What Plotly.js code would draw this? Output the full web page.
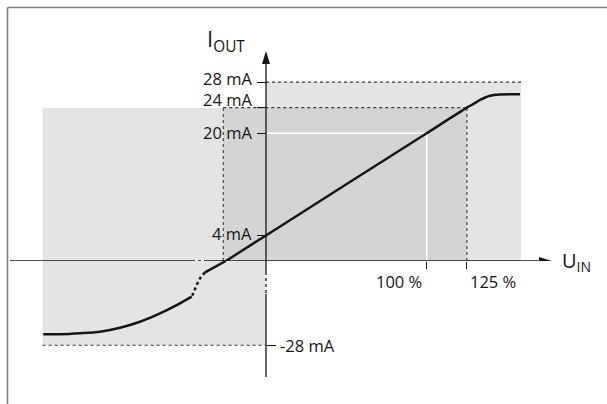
<!DOCTYPE html>
<html>
<head>
<meta charset="utf-8">
<script src="https://cdn.plot.ly/plotly-3.0.1.min.js"></script>
<style>html,body{margin:0;padding:0;background:#fff;}#chart{width:607px;height:404px;}</style>
</head>
<body>
<div id="chart"></div>
<script>
// ---------- data (input in %, output in mA) ----------
const upperCurveX = [-25, 0, 100, 125, 129.2, 133.2, 139.4, 145.6, 158.1];
const upperCurveY = [0, 4, 20, 24, 24.6, 25.2, 25.85, 26.05, 26.1];
const lowerLineX = [-25, -37.96];
const lowerLineY = [0, -3.75];
const brokenX = [-37.96, -41.07, -43.12, -45.24, -46.24];
const brokenY = [-3.75, -5.75, -7.97, -10.73, -11.86];
const lowerCurveX = [-46.24, -53.52, -65.96, -78.41, -90.85, -103.3, -115.7, -128.2, -138.6];
const lowerCurveY = [-11.86, -14.05, -17.38, -20.17, -22.16, -23.49, -24.02, -24.35, -24.35];

const yTickVals = [28, 24, 20, 4];
const yTickText = ['28 mA', '24 mA', '20 mA', '4 mA'];
const yNegTickVals = [-28];
const yNegTickText = ['-28 mA'];
const xTickVals = [100, 125];
const xTickText = ['100 %', '125 %'];

const nominalPct = [0, 100];        // nominal input span
const extendedPct = [-26.6, 125];   // extended linear span
const saturationPct = [-139, 158.7]; // full output span
const nominalMA = [4, 20];
const extendedMA = [0, 24];
const limitMA = [-28, 28];

// ---------- style / geometry ----------
const FONT = '"Open Sans", "Noto Sans", "DejaVu Sans", sans-serif';
const INK = '#161616';
const LIGHT = '#e4e4e4';
const DARK = '#d4d4d4';
const W = 607, H = 404;
const X0PX = 266, KX = 1.607;      // px of x=0, px per %
const Y0PX = 261, KY = 6.39, KY2 = 3.01;
const split = 1 - Y0PX / H;

const traceStyle = {color: INK, width: 2.5};
const traces = [
  {x: upperCurveX, y: upperCurveY, xaxis: 'x', yaxis: 'y', mode: 'lines', line: Object.assign({shape: 'spline', smoothing: 0.6}, traceStyle), hoverinfo: 'skip'},
  {x: lowerLineX, y: lowerLineY, xaxis: 'x', yaxis: 'y2', mode: 'lines', line: traceStyle, hoverinfo: 'skip'},
  {x: brokenX, y: brokenY, xaxis: 'x', yaxis: 'y2', mode: 'lines', line: Object.assign({dash: 'dot', shape: 'spline'}, traceStyle), hoverinfo: 'skip'},
  {x: lowerCurveX, y: lowerCurveY, xaxis: 'x', yaxis: 'y2', mode: 'lines', line: Object.assign({shape: 'spline', smoothing: 0.8}, traceStyle), hoverinfo: 'skip'}
];

const dot = {color: '#3a3a3a', width: 1.1, dash: 'dot'};
const axisLine = {color: INK, width: 1.3};
const shapes = [
  // frame
  {type: 'line', xref: 'paper', yref: 'paper', x0: 7.5 / W, x1: 1, y0: 1 - 7.5 / H, y1: 1 - 7.5 / H, line: {color: '#7d7d7d', width: 1.6}},
  {type: 'line', xref: 'paper', yref: 'paper', x0: 7.5 / W, x1: 7.5 / W, y0: 0, y1: 1 - 7.5 / H, line: {color: '#7d7d7d', width: 1.6}},
  // regions
  {type: 'rect', layer: 'below', xref: 'x', yref: 'y', x0: saturationPct[0], x1: nominalPct[0], y0: 0, y1: extendedMA[1], fillcolor: LIGHT, line: {width: 0}},
  {type: 'rect', layer: 'below', xref: 'x', yref: 'y2', x0: saturationPct[0], x1: nominalPct[0], y0: limitMA[0], y1: 0, fillcolor: LIGHT, line: {width: 0}},
  {type: 'rect', layer: 'below', xref: 'x', yref: 'y', x0: nominalPct[0], x1: saturationPct[1], y0: 0, y1: limitMA[1], fillcolor: LIGHT, line: {width: 0}},
  {type: 'rect', layer: 'below', xref: 'x', yref: 'y', x0: extendedPct[0], x1: extendedPct[1], y0: extendedMA[0], y1: extendedMA[1], fillcolor: DARK, line: {width: 0}},
  // white nominal lines
  {type: 'line', layer: 'below', xref: 'x', yref: 'y', x0: nominalPct[0], x1: nominalPct[1], y0: nominalMA[1], y1: nominalMA[1], line: {color: '#ffffff', width: 1.5}},
  {type: 'line', layer: 'below', xref: 'x', yref: 'y', x0: nominalPct[1], x1: nominalPct[1], y0: 0, y1: nominalMA[1], line: {color: '#ffffff', width: 1.5}},
  // dotted limits
  {type: 'line', layer: 'below', xref: 'x', yref: 'y', x0: nominalPct[0], x1: saturationPct[1], y0: limitMA[1], y1: limitMA[1], line: dot},
  {type: 'line', layer: 'below', xref: 'x', yref: 'y', x0: extendedPct[0], x1: extendedPct[1], y0: extendedMA[1], y1: extendedMA[1], line: dot},
  {type: 'line', layer: 'below', xref: 'x', yref: 'y', x0: extendedPct[0], x1: extendedPct[0], y0: 0, y1: extendedMA[1], line: dot},
  {type: 'line', layer: 'below', xref: 'x', yref: 'y', x0: extendedPct[1], x1: extendedPct[1], y0: 0, y1: extendedMA[1], line: dot},
  {type: 'line', layer: 'below', xref: 'x', yref: 'y2', x0: saturationPct[0], x1: nominalPct[0], y0: limitMA[0], y1: limitMA[0], line: dot},
  // axes
  {type: 'line', xref: 'x', yref: 'y', x0: (10 - X0PX) / KX, x1: (545 - X0PX) / KX, y0: 0, y1: 0, line: axisLine},
  {type: 'line', xref: 'x', yref: 'y', x0: 0, x1: 0, y0: 0, y1: (Y0PX - 58) / KY, line: axisLine},
  {type: 'line', xref: 'x', yref: 'y2', x0: 0, x1: 0, y0: -(377 - Y0PX) / KY2, y1: 0, line: axisLine},
  // axis breaks
  {type: 'line', xref: 'x', yref: 'y', x0: (192 - X0PX) / KX, x1: (204 - X0PX) / KX, y0: 0, y1: 0, line: {color: '#ffffff', width: 2}},
  {type: 'line', xref: 'x', yref: 'y', x0: (192 - X0PX) / KX, x1: (204 - X0PX) / KX, y0: 0, y1: 0, line: {color: INK, width: 1.3, dash: 'dot'}},
  {type: 'line', xref: 'x', yref: 'y2', x0: 0, x1: 0, y0: -(272 - Y0PX) / KY2, y1: -(294 - Y0PX) / KY2, line: {color: '#ffffff', width: 2}},
  {type: 'line', xref: 'x', yref: 'y2', x0: 0, x1: 0, y0: -(272 - Y0PX) / KY2, y1: -(294 - Y0PX) / KY2, line: {color: INK, width: 1.3, dash: 'dot'}},
  // arrow heads
  {type: 'path', xref: 'x', yref: 'y', xsizemode: 'pixel', ysizemode: 'pixel', xanchor: (552 - X0PX) / KX, yanchor: 0, path: 'M0,0 L-13,4 L-13,-4 Z', fillcolor: INK, line: {width: 0}},
  {type: 'path', xref: 'x', yref: 'y', xsizemode: 'pixel', ysizemode: 'pixel', xanchor: 0, yanchor: (Y0PX - 51) / KY, path: 'M0,0 L-4,-13 L4,-13 Z', fillcolor: INK, line: {width: 0}}
];

const labelFont = {family: FONT, size: 16.5, color: INK};
const yLabelShift = [4, 8, 1, 2];
const annotations = [];
yTickVals.forEach((v, i) => annotations.push({x: 0, y: v, xref: 'x', yref: 'y', text: yTickText[i], showarrow: false, xanchor: 'right', yanchor: 'middle', xshift: -12, yshift: yLabelShift[i], font: labelFont}));
yNegTickVals.forEach((v, i) => annotations.push({x: 0, y: v, xref: 'x', yref: 'y2', text: yNegTickText[i], showarrow: false, xanchor: 'left', yanchor: 'middle', xshift: 12, font: labelFont}));
const xLabelAnchor = ['right', 'left'];
const xLabelShift = [-3, 1];
xTickVals.forEach((v, i) => annotations.push({x: v, y: 0, xref: 'x', yref: 'y', text: xTickText[i], showarrow: false, xanchor: xLabelAnchor[i], yanchor: 'middle', xshift: xLabelShift[i], yshift: -20, font: labelFont}));
annotations.push({x: 0, y: (Y0PX - 40) / KY, xref: 'x', yref: 'y', text: 'I<sub>OUT</sub>', showarrow: false, xanchor: 'right', yanchor: 'middle', xshift: -19, font: {family: FONT, size: 22, color: INK}});
annotations.push({x: (560 - X0PX) / KX, y: 0, xref: 'x', yref: 'y', text: 'U<sub>IN</sub>', showarrow: false, xanchor: 'left', yanchor: 'middle', yshift: 0, font: {family: FONT, size: 20, color: INK}});

const layout = {
  width: W, height: H, autosize: false,
  margin: {l: 0, r: 0, t: 0, b: 0},
  paper_bgcolor: '#ffffff', plot_bgcolor: 'rgba(0,0,0,0)',
  showlegend: false,
  xaxis: {domain: [0, 1], range: [-X0PX / KX, (W - X0PX) / KX], anchor: 'y', showgrid: false, zeroline: false, showline: false,
          tickmode: 'array', tickvals: xTickVals, ticktext: xTickText, showticklabels: false, ticks: 'outside', ticklen: 7, tickwidth: 1.1, tickcolor: INK, fixedrange: true},
  yaxis: {domain: [split, 1], range: [0, Y0PX / KY], anchor: 'free', position: X0PX / W, side: 'left', showgrid: false, zeroline: false, showline: false,
          tickmode: 'array', tickvals: yTickVals, ticktext: yTickText, showticklabels: false, ticks: 'outside', ticklen: 9, tickwidth: 1.1, tickcolor: INK, fixedrange: true},
  yaxis2: {domain: [0, split], range: [-(H - Y0PX) / KY2, 0], anchor: 'free', position: X0PX / W, side: 'right', showgrid: false, zeroline: false, showline: false,
          tickmode: 'array', tickvals: yNegTickVals, ticktext: yNegTickText, showticklabels: false, ticks: 'outside', ticklen: 9, tickwidth: 1.1, tickcolor: INK, fixedrange: true},
  shapes: shapes,
  annotations: annotations
};

Plotly.newPlot('chart', traces, layout, {displayModeBar: false, staticPlot: true});
</script>
</body>
</html>
